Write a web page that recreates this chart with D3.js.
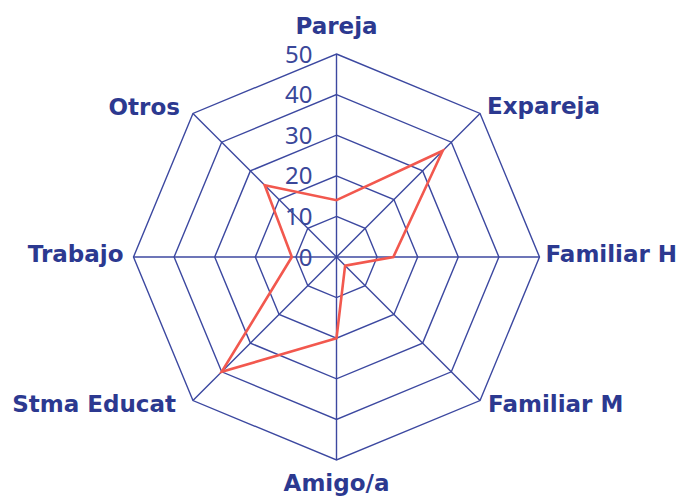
<!DOCTYPE html>
<html>
<head>
<meta charset="utf-8">
<script src="https://cdn.jsdelivr.net/npm/d3@7"></script>
<style>
  body { margin: 0; background: white; }
  svg { display: block; }
</style>
</head>
<body>
<svg id="chart" width="683" height="497"></svg>
<script>
/* global d3 */
const categories = ['Pareja', 'Expareja', 'Familiar H', 'Familiar M', 'Amigo/a', 'Stma Educat', 'Trabajo', 'Otros']
const values = [14, 37, 14, 3, 20, 40, 11, 25]
const ticks = [0, 10, 20, 30, 40, 50]

const cx = 336.5
const cy = 257
const radius = 203
const navy = '#2c3990'
const grid = '#3c48a0'
const red = '#f2584e'

const svg = d3.select('#chart')

const r = d3.scaleLinear().domain([0, 50]).range([0, radius])
const angle = d3.scaleBand().domain(categories).range([0, 2 * Math.PI]).align(0)

// angle 0 points up, clockwise
const pt = (cat, v) => {
  const a = angle(cat)
  return [cx + r(v) * Math.sin(a), cy - r(v) * Math.cos(a)]
}

const line = d3.line().curve(d3.curveLinearClosed)

// octagon rings
svg.append('g')
  .selectAll('path')
  .data(ticks.slice(1))
  .join('path')
  .attr('d', t => line(categories.map(c => pt(c, t))))
  .attr('fill', 'none')
  .attr('stroke', grid)
  .attr('stroke-width', 1.4)

// spokes
svg.append('g')
  .selectAll('line')
  .data(categories)
  .join('line')
  .attr('x1', cx)
  .attr('y1', cy)
  .attr('x2', c => pt(c, 50)[0])
  .attr('y2', c => pt(c, 50)[1])
  .attr('stroke', grid)
  .attr('stroke-width', 1.4)

// data line
svg.append('path')
  .attr('d', line(categories.map((c, i) => pt(c, values[i]))))
  .attr('fill', 'none')
  .attr('stroke', red)
  .attr('stroke-width', 2.6)

// tick labels
svg.append('g')
  .selectAll('text')
  .data(ticks)
  .join('text')
  .attr('x', cx - 24)
  .attr('y', t => cy - r(t))
  .attr('dy', '0.36em')
  .attr('text-anchor', 'end')
  .attr('font-family', '"Noto Sans", sans-serif')
  .attr('font-size', 24)
  .attr('fill', '#3a4799')
  .text(t => t)

// category labels, offsets from the outer vertex
const labelPos = {
  Pareja: { dx: 0, dy: -28, anchor: 'middle' },
  Expareja: { dx: 7, dy: -8, anchor: 'start' },
  'Familiar H': { dx: 6, dy: -3.5, anchor: 'start' },
  'Familiar M': { dx: 8, dy: 3.5, anchor: 'start' },
  'Amigo/a': { dx: 0, dy: 22.5, anchor: 'middle' },
  'Stma Educat': { dx: -17, dy: 3.5, anchor: 'end' },
  Trabajo: { dx: -10, dy: -3, anchor: 'end' },
  Otros: { dx: -13, dy: -7, anchor: 'end' }
}

svg.append('g')
  .selectAll('text')
  .data(categories)
  .join('text')
  .attr('x', c => pt(c, 50)[0] + labelPos[c].dx)
  .attr('y', c => pt(c, 50)[1] + labelPos[c].dy)
  .attr('dy', '0.36em')
  .attr('text-anchor', c => labelPos[c].anchor)
  .attr('font-family', '"DejaVu Sans", sans-serif')
  .attr('font-weight', 'bold')
  .attr('font-size', 23)
  .attr('fill', navy)
  .text(c => c)
</script>
</body>
</html>
